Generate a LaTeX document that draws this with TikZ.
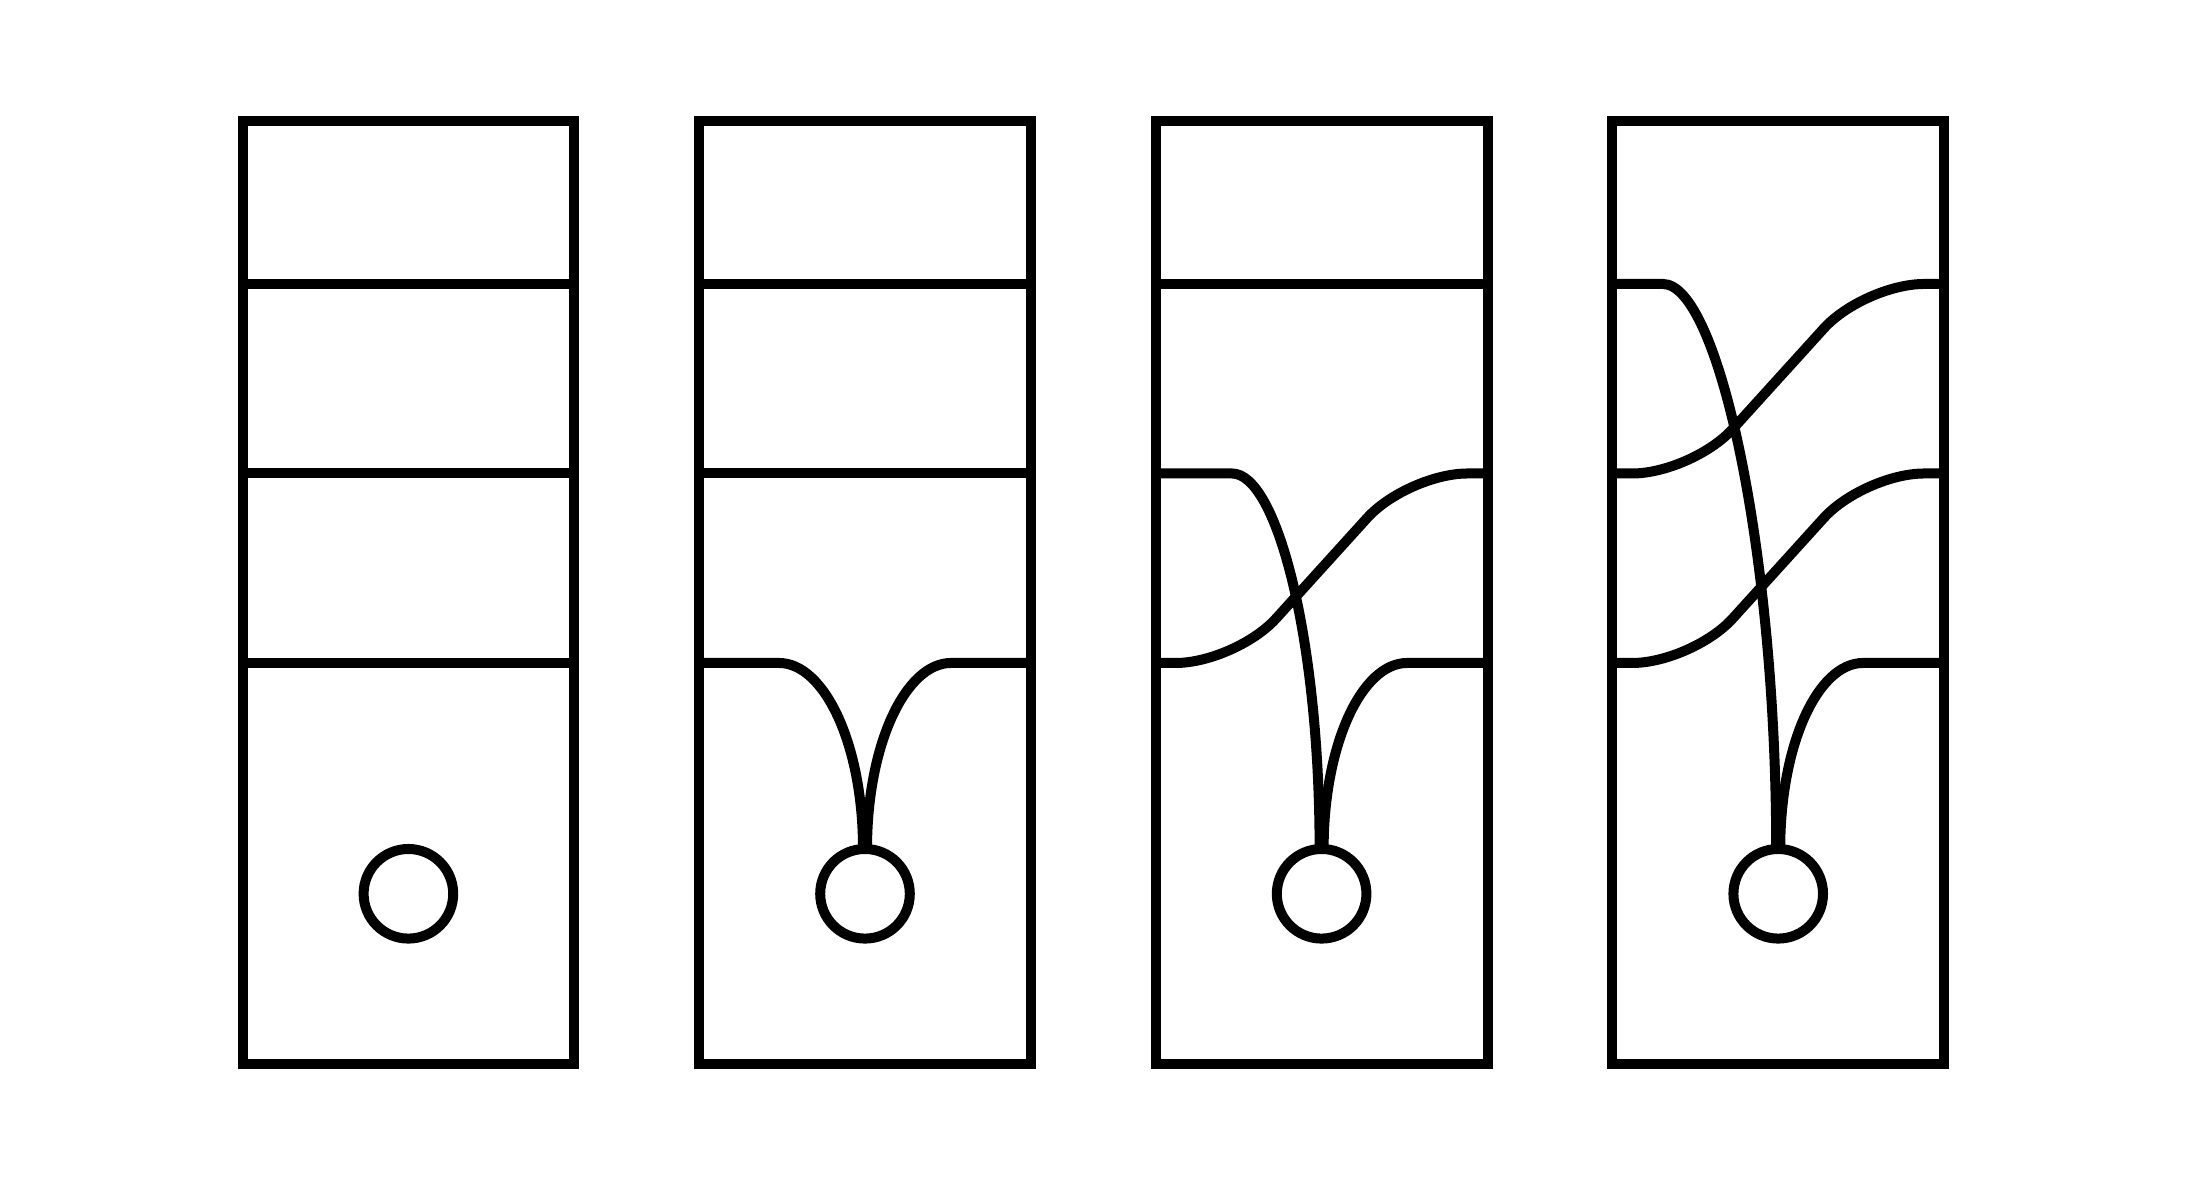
\documentclass[tikz,border=0pt]{standalone}
\usepackage{tikz}

\tikzset{
  frame/.style={line width=1mm},
  wire/.style={line width=1mm},
  bendwire/.style={wire, rounded corners=6mm},
  port/.style={draw, circle, line width=1mm, minimum size=8.96mm, inner sep=0pt, outer sep=0pt}
}

\begin{document}
\begin{tikzpicture}
	\useasboundingbox (0,0) rectangle (21.92,11.90);

	\foreach \X/\n in {2.425/1, 6.991/2, 11.557/3, 16.123/4}{
		\draw[frame] (\X,1.26) rectangle ++(3.318,9.43);
		\node[port] (c\n) at (\X+1.659,2.962) {};
	};

	% first column
	\foreach \Y in {9.06, 7.165, 5.27}{
		\draw[frame] (2.425,\Y) -- ++(3.318,0);
	};

	% second column
	\foreach \Y in {9.06, 7.165}{
		\draw[frame] (6.991,\Y) -- ++(3.318,0);
	};
	\draw[wire] (6.991,5.27) -- (7.791,5.27) .. controls +(0.45,0) and +(0,1.05) .. ([xshift=-0.2mm]c2.north);
	\draw[wire] (10.309,5.27) -- (9.509,5.27) .. controls +(-0.45,0) and +(0,1.05) .. ([xshift=0.2mm]c2.north);

	% third column
	\draw[frame] (11.557,9.06) -- ++(3.318,0);
	\draw[wire] (11.557,7.165) -- (12.32,7.165) .. controls +(0.45,0) and +(0,2.1) .. ([xshift=-0.2mm]c3.north);
	\draw[bendwire] (11.557,5.27) -- (12.357,5.27) -- (14.075,7.165) -- (14.875,7.165);
	\draw[wire] (14.875,5.27) -- (14.07,5.27) .. controls +(-0.45,0) and +(0,1.05) .. ([xshift=0.2mm]c3.north);

	% fourth column
	\draw[wire] (16.123,9.06) -- (16.63,9.06) .. controls +(0.55,0) and +(0,3.0) .. ([xshift=-0.2mm]c4.north);
	\draw[bendwire] (16.123,7.165) -- (16.923,7.165) -- (18.641,9.06) -- (19.441,9.06);
	\draw[bendwire] (16.123,5.27) -- (16.923,5.27) -- (18.641,7.165) -- (19.441,7.165);
	\draw[wire] (19.441,5.27) -- (18.63,5.27) .. controls +(-0.45,0) and +(0,1.05) .. ([xshift=0.2mm]c4.north);

\end{tikzpicture}
\end{document}
